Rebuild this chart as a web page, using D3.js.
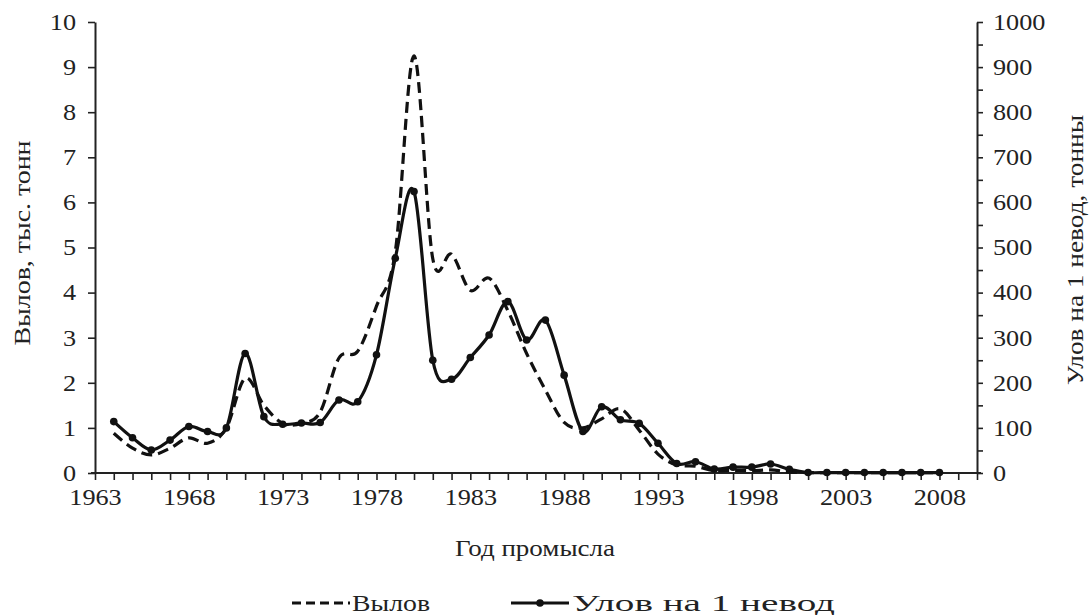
<!DOCTYPE html>
<html><head><meta charset="utf-8">
<script src="https://cdn.jsdelivr.net/npm/d3@7"></script>
<style>body{margin:0;background:#fff}svg{display:block}text{font-family:"Liberation Serif","Times New Roman",serif;fill:#222}</style>
</head><body><svg id="c" width="1091" height="615"></svg>
<script>
const years = d3.range(1964, 2009);
const catchK = [0.88,0.55,0.40,0.55,0.78,0.66,1.00,2.10,1.50,1.10,1.10,1.35,2.55,2.70,3.70,4.90,9.25,4.75,4.85,4.05,4.32,3.60,2.65,1.84,1.12,1.00,1.20,1.42,0.95,0.42,0.18,0.15,0.05,0.06,0.05,0.07,0.02,0.01,0.01,0.01,0.01,0.01,0.01,0.01,0.01];
const perNet = [114,78,51,73,103,92,100,265,125,108,111,112,162,158,262,476,624,250,208,256,306,380,295,339,217,92,147,118,110,66,21,25,9,13,13,20,8,1,1,1,1,1,1,1,1];
const xTickLabels = [1963,1968,1973,1978,1983,1988,1993,1998,2003,2008];
const leftTicks = d3.range(0, 11, 1);
const rightTicks = d3.range(0, 1001, 50);
const rightLabels = d3.range(0, 1001, 100);

const svg = d3.select("#c");
const x = d3.scaleLinear().domain([1963, 2010]).range([95, 977]);
const yL = d3.scaleLinear().domain([0, 10]).range([473, 22]);
const yR = d3.scaleLinear().domain([0, 1000]).range([473, 22]);
const FS = 23;
const stretch = 1.14;

function styleAxis(g){
  g.selectAll(".domain").attr("stroke","#222").attr("stroke-width",2);
  g.selectAll(".tick line").attr("stroke","#222").attr("stroke-width",1.6);
  g.selectAll("text").attr("font-size",FS).attr("fill","#222").style("font-family",'"Liberation Serif",serif');
}

// x axis
const gx = svg.append("g").attr("transform","translate(0,473)")
  .call(d3.axisBottom(x).tickValues(d3.range(1963, 2011)).tickSize(7).tickPadding(9).tickSizeOuter(0)
    .tickFormat(d => xTickLabels.includes(d) ? d : ""));
styleAxis(gx);
gx.select(".domain").attr("d","M91,0H981");

// left axis
const gl = svg.append("g").attr("transform","translate(95,0)")
  .call(d3.axisLeft(yL).tickValues(leftTicks).tickSize(7).tickPadding(12).tickSizeOuter(0).tickFormat(d3.format("d")));
styleAxis(gl);

// right axis
const gr = svg.append("g").attr("transform","translate(977,0)")
  .call(d3.axisRight(yR).tickValues(rightTicks).tickSize(6).tickPadding(10).tickSizeOuter(0)
    .tickFormat(d => rightLabels.includes(d) ? d : ""));
styleAxis(gr);

// stretch tick labels horizontally
svg.selectAll(".tick text").each(function(){
  const t = d3.select(this);
  if (!t.text()) return;
  const w = this.getComputedTextLength();
  t.attr("textLength", w*stretch).attr("lengthAdjust","spacingAndGlyphs");
});

const curve = d3.curveCardinal.tension(0);
// dashed: catch
svg.append("path").datum(years.map((y,i)=>[y,catchK[i]]))
  .attr("fill","none").attr("stroke","#111").attr("stroke-width",3.2)
  .attr("stroke-dasharray","11,6")
  .attr("d", d3.line().x(d=>x(d[0])).y(d=>yL(d[1])).curve(curve));
// solid: per net
svg.append("path").datum(years.map((y,i)=>[y,perNet[i]]))
  .attr("fill","none").attr("stroke","#111").attr("stroke-width",3.2)
  .attr("d", d3.line().x(d=>x(d[0])).y(d=>yR(d[1])).curve(curve));
svg.append("g").selectAll("circle").data(years.map((y,i)=>[y,perNet[i]])).join("circle")
  .attr("cx",d=>x(d[0])).attr("cy",d=>yR(d[1])).attr("r",3.8).attr("fill","#111");

function label(txt, xx, yy, len, rot){
  const t = svg.append("text").text(txt).attr("font-size",FS).attr("text-anchor","middle")
    .attr("textLength",len).attr("lengthAdjust","spacingAndGlyphs");
  if (rot) t.attr("transform",`translate(${xx},${yy}) rotate(${rot})`);
  else t.attr("x",xx).attr("y",yy);
  return t;
}
label("Вылов, тыс. тонн", 30, 243, 205, -90);
label("Улов на 1 невод, тонны", 1083, 250, 270, -90);
label("Год промысла", 535, 556, 160, 0);

// legend
svg.append("line").attr("x1",292).attr("x2",350).attr("y1",603).attr("y2",603)
  .attr("stroke","#111").attr("stroke-width",3.2).attr("stroke-dasharray","9,5");
svg.append("text").text("Вылов").attr("x",352).attr("y",611).attr("font-size",FS)
  .attr("textLength",78).attr("lengthAdjust","spacingAndGlyphs");
svg.append("line").attr("x1",511).attr("x2",569).attr("y1",603).attr("y2",603)
  .attr("stroke","#111").attr("stroke-width",3.2);
svg.append("circle").attr("cx",540).attr("cy",603).attr("r",3.8).attr("fill","#111");
svg.append("text").text("Улов на 1 невод").attr("x",572).attr("y",611).attr("font-size",FS)
  .attr("textLength",263).attr("lengthAdjust","spacingAndGlyphs");
</script></body></html>
